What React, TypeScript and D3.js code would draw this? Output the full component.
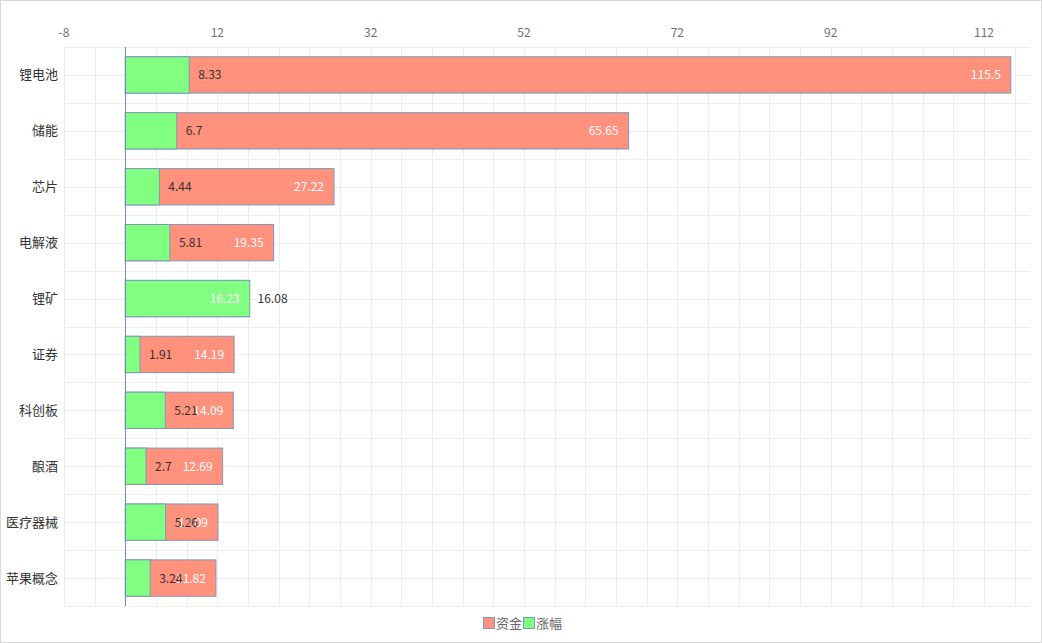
import React from "react";
import * as d3 from "d3";

const categories = ["锂电池", "储能", "芯片", "电解液", "锂矿", "证券", "科创板", "酿酒", "医疗器械", "苹果概念"];
const fundValues = [115.5, 65.65, 27.22, 19.35, 16.08, 14.19, 14.09, 12.69, 12.09, 11.82];
const riseValues = [8.33, 6.7, 4.44, 5.81, 16.23, 1.91, 5.21, 2.7, 5.26, 3.24];
const tickValues = [-8, 12, 32, 52, 72, 92, 112];
const seriesNames = ["资金", "涨幅"];

const W = 1042;
const H = 643;
const left = 64;
const right = 1030;
const top = 47;
const bottom = 606;
const RED = "#ff917d";
const GREEN = "#80ff80";
const BORDER = "#7f98bc";
const FONT = "'Noto Sans CJK SC', 'Noto Sans', sans-serif";

export default function App() {
  const x = d3.scaleLinear().domain([-8, 118]).range([left, right]);
  const y = d3.scaleBand<string>().domain(categories).range([top, bottom]).paddingInner(0).paddingOuter(0);
  const bw = y.bandwidth();
  const barH = bw * 0.65;
  const gridX = d3.range(-8, 117, 4);
  const hLines: number[] = [];
  categories.forEach((c) => {
    hLines.push(y(c)!);
    hLines.push(y(c)! + bw / 2);
  });
  hLines.push(bottom);

  return (
    <svg width={W} height={H} style={{ position: "absolute", left: 0, top: 0, fontFamily: FONT }}>
      <rect x={0.5} y={0.5} width={W - 1} height={H - 1} fill="#fff" stroke="#d9d9d9" />
      {gridX.map((v) => (
        <line key={"gx" + v} x1={Math.round(x(v)) + 0.5} x2={Math.round(x(v)) + 0.5} y1={top} y2={bottom} stroke="#eeeeee" />
      ))}
      {hLines.map((v, i) => (
        <line key={"gy" + i} x1={left} x2={right} y1={Math.round(v) + 0.5} y2={Math.round(v) + 0.5} stroke="#eeeeee" />
      ))}
      {tickValues.map((v) => (
        <text key={"t" + v} x={x(v)} y={37} textAnchor="middle" fontSize={12} fill="#6f6f80">
          {v}
        </text>
      ))}
      {categories.map((c) => (
        <text key={"c" + c} x={58} y={y(c)! + bw / 2 + 4.5} textAnchor="end" fontSize={13} fill="#333">
          {c}
        </text>
      ))}
      {categories.map((c, i) => {
        const yy = y(c)! + (bw - barH) / 2;
        const x0 = x(0);
        return (
          <g key={"b" + c}>
            <rect x={x0} y={yy} width={x(fundValues[i]) - x0} height={barH} fill={RED} stroke={BORDER} strokeWidth={1} />
            <rect x={x0} y={yy} width={x(riseValues[i]) - x0} height={barH} fill={GREEN} stroke={BORDER} strokeWidth={1} />
          </g>
        );
      })}
      {categories.map((c, i) => {
        const cy = y(c)! + bw / 2 + 4.5;
        const maxV = Math.max(fundValues[i], riseValues[i]);
        const minV = Math.min(fundValues[i], riseValues[i]);
        return (
          <g key={"l" + c}>
            <text x={x(maxV) - 10} y={cy} fontSize={12} fill="#fff" textAnchor="end">
              {maxV}
            </text>
            <text x={x(minV) + 9} y={cy} fontSize={12} fill="#333">
              {minV}
            </text>
          </g>
        );
      })}
      <line x1={Math.round(x(0)) + 0.5} x2={Math.round(x(0)) + 0.5} y1={top} y2={bottom} stroke="#6b8cc0" />
      <g>
        <rect x={483.5} y={617.5} width={11} height={11} fill={RED} stroke={BORDER} />
        <text x={496} y={627.5} fontSize={13} fill="#666">{seriesNames[0]}</text>
        <rect x={523.5} y={617.5} width={11} height={11} fill={GREEN} stroke={BORDER} />
        <text x={536} y={627.5} fontSize={13} fill="#666">{seriesNames[1]}</text>
      </g>
    </svg>
  );
}
